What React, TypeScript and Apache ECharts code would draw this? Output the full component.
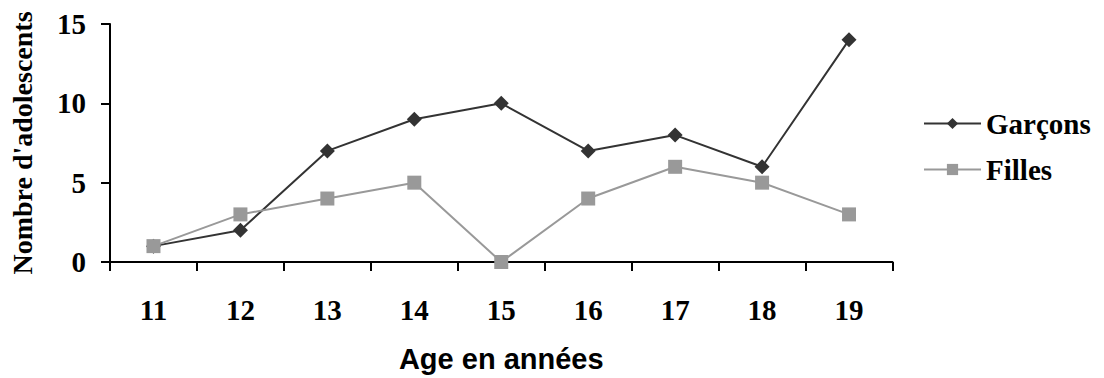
import React, { useEffect, useRef } from "react";
import * as echarts from "echarts";

// Age groups (years) and number of teenagers per group
const ages = ["11", "12", "13", "14", "15", "16", "17", "18", "19"];
const garcons = [1, 2, 7, 9, 10, 7, 8, 6, 14];
const filles = [1, 3, 4, 5, 0, 4, 6, 5, 3];
const yTicks = { min: 0, max: 15, interval: 5 };

const SERIF = "'Liberation Serif', 'Times New Roman', serif";
const SANS = "'Liberation Sans', Arial, sans-serif";

export default function App() {
  const ref = useRef<HTMLDivElement>(null);

  useEffect(() => {
    if (!ref.current) return;
    const chart = echarts.init(ref.current, undefined, { renderer: "svg" });
    chart.setOption({
      animation: false,
      backgroundColor: "#ffffff",
      grid: { left: 105, right: 211.5, top: 24, bottom: 114, containLabel: false },
      legend: {
        orient: "vertical",
        left: 923,
        top: 109,
        padding: 0,
        itemWidth: 57,
        itemHeight: 14,
        itemGap: 17,
        textStyle: { fontFamily: SERIF, fontWeight: "bold", fontSize: 29, color: "#000" },
        data: ["Garçons", "Filles"],
      },
      xAxis: {
        type: "category",
        data: ages,
        boundaryGap: true,
        name: "Age en années",
        nameLocation: "middle",
        nameGap: 82,
        nameTextStyle: { fontFamily: SANS, fontWeight: "bold", fontSize: 29, color: "#000" },
        axisLine: { lineStyle: { color: "#000", width: 2 } },
        axisTick: { show: true, length: 9, interval: 0, alignWithLabel: false, lineStyle: { color: "#000", width: 2 } },
        axisLabel: { margin: 33, interval: 0, fontFamily: SERIF, fontWeight: "bold", fontSize: 29, color: "#000" },
        splitLine: { show: false },
      },
      yAxis: {
        type: "value",
        min: yTicks.min,
        max: yTicks.max,
        interval: yTicks.interval,
        name: "Nombre d'adolescents",
        nameLocation: "middle",
        nameRotate: 90,
        nameGap: 74,
        nameTextStyle: { fontFamily: SERIF, fontWeight: "bold", fontSize: 28, color: "#000" },
        axisLine: { show: true, lineStyle: { color: "#000", width: 2 } },
        axisTick: { show: true, length: 9, lineStyle: { color: "#000", width: 2 } },
        axisLabel: { margin: 24, fontFamily: SERIF, fontWeight: "bold", fontSize: 29, color: "#000" },
        splitLine: { show: false },
      },
      series: [
        {
          name: "Garçons",
          type: "line",
          data: garcons,
          symbol: "diamond",
          symbolSize: 15,
          lineStyle: { color: "#333333", width: 2 },
          itemStyle: { color: "#333333" },
        },
        {
          name: "Filles",
          type: "line",
          data: filles,
          symbol: "rect",
          symbolSize: 14,
          lineStyle: { color: "#999999", width: 2 },
          itemStyle: { color: "#999999" },
        },
      ],
    });
    return () => chart.dispose();
  }, []);

  return (
    <div
      ref={ref}
      style={{ position: "absolute", left: 0, top: 0, width: 1104, height: 378, background: "#fff" }}
    />
  );
}
